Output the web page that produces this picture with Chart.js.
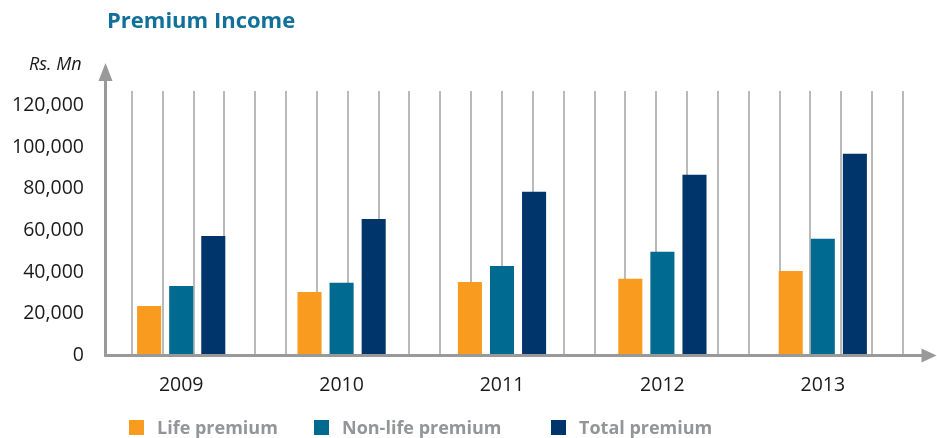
<!DOCTYPE html>
<html>
<head>
<meta charset="utf-8">
<title>Premium Income</title>
<script src="https://cdn.jsdelivr.net/npm/chart.js@4.4.1/dist/chart.umd.min.js"></script>
<style>
  html, body { margin: 0; padding: 0; background: #ffffff; }
  #wrap { position: relative; width: 937px; height: 438px; overflow: hidden; font-family: "Open Sans", sans-serif; }
  #chart { position: absolute; left: 0; top: 0; }
  #title { position: absolute; left: 107px; top: 4px; font-size: 22px; font-weight: 700; color: #10709a; white-space: nowrap; }
  #unit { position: absolute; left: 29px; top: 51px; font-size: 18px; font-style: italic; color: #1a1a1a; white-space: nowrap; }
  .legend-item { position: absolute; top: 415px; display: flex; align-items: center; white-space: nowrap; }
  .legend-item .box { width: 15px; height: 15px; margin-right: 13px; }
  .legend-item .label { font-size: 18px; font-weight: 700; color: #939598; }
  .legend-item:nth-child(1) { left: 129px; }
  .legend-item:nth-child(2) { left: 314px; }
  .legend-item:nth-child(3) { left: 551px; }
</style>
</head>
<body>
<div id="wrap">
  <canvas id="chart" width="937" height="438"></canvas>
  <div id="title">Premium Income</div>
  <div id="unit">Rs. Mn</div>
  <div id="legend"></div>
</div>
<script>
// Données (Rs. Mn)
const years = ["2009", "2010", "2011", "2012", "2013"];
const lifePremium = [23800, 30500, 35300, 36800, 40600];
const nonLifePremium = [33400, 34900, 43000, 49800, 56000];
const totalPremium = [57400, 65600, 78600, 86800, 96900];
const yTicks = [0, 20000, 40000, 60000, 80000, 100000, 120000];

const seriesNames = ["Life premium", "Non-life premium", "Total premium"];
const seriesColors = ["#f89b1f", "#006a91", "#00356b"];

const AXIS_COLOR = "#999999";
const GRID_COLOR = "#bababa";
const TEXT_COLOR = "#1a1a1a";
const FONT = "'Open Sans', sans-serif";

// each year takes 5 slots: empty, 3 bars, empty
const slotCount = years.length * 5;

// axes with arrows, drawn over the bars
const axisArrows = {
  id: "axisArrows",
  afterDatasetsDraw(chart) {
    const { ctx, chartArea } = chart;
    const y0 = chart.scales.y.getPixelForValue(0);
    const ax = chartArea.left + 4.5;
    const xEnd = chart.width - 0.5;
    ctx.save();
    ctx.strokeStyle = AXIS_COLOR;
    ctx.fillStyle = AXIS_COLOR;
    ctx.lineWidth = 3;
    ctx.beginPath();
    ctx.moveTo(ax, y0 + 1.5);
    ctx.lineTo(ax, chartArea.top - 11);
    ctx.moveTo(ax - 1.5, y0);
    ctx.lineTo(xEnd - 14, y0);
    ctx.stroke();
    ctx.beginPath();
    ctx.moveTo(ax, chartArea.top - 28);
    ctx.lineTo(ax - 7, chartArea.top - 10);
    ctx.lineTo(ax + 7, chartArea.top - 10);
    ctx.closePath();
    ctx.fill();
    ctx.beginPath();
    ctx.moveTo(xEnd, y0);
    ctx.lineTo(xEnd - 15, y0 - 7);
    ctx.lineTo(xEnd - 15, y0 + 7);
    ctx.closePath();
    ctx.fill();
    ctx.restore();
  },
};

const ctx = document.getElementById("chart").getContext("2d");
const premiumChart = new Chart(ctx, {
  type: "bar",
  data: {
    labels: years,
    datasets: [lifePremium, nonLifePremium, totalPremium].map((values, i) => ({
      label: seriesNames[i],
      data: values,
      backgroundColor: seriesColors[i],
      borderWidth: 0,
      categoryPercentage: 0.6,
      barPercentage: 0.75,
    })),
  },
  options: {
    responsive: false,
    animation: false,
    devicePixelRatio: 1,
    layout: {
      padding: { top: 91, right: 34, bottom: 0, left: 0 },
    },
    plugins: {
      legend: { display: false },
      tooltip: { enabled: false },
    },
    scales: {
      x: {
        type: "category",
        grid: { display: false, drawTicks: false },
        border: { display: false },
        ticks: {
          color: TEXT_COLOR,
          font: { family: FONT, size: 19.5 },
          padding: 18,
          maxRotation: 0,
        },
        afterFit(scale) {
          scale.height = 82.5;
        },
      },
      x2: {
        type: "linear",
        position: "top",
        min: 0,
        max: slotCount,
        ticks: { display: false, stepSize: 1 },
        grid: {
          drawTicks: false,
          lineWidth: 2,
          color: (c) => (c.index === 0 ? "rgba(0,0,0,0)" : GRID_COLOR),
        },
        border: { display: false },
        afterFit(scale) {
          scale.height = 0;
        },
      },
      y: {
        min: 0,
        max: 127000,
        grid: { display: false, drawTicks: false },
        border: { display: false },
        afterBuildTicks(scale) {
          scale.ticks = yTicks.map((v) => ({ value: v }));
        },
        ticks: {
          color: TEXT_COLOR,
          font: { family: FONT, size: 19.5 },
          padding: 17,
          callback: (v) => v.toLocaleString("en-US"),
        },
        afterFit(scale) {
          scale.width = 101;
        },
      },
    },
  },
  plugins: [axisArrows],
});

// Légende HTML
const legend = document.getElementById("legend");
seriesNames.forEach((name, i) => {
  const item = document.createElement("div");
  item.className = "legend-item";
  const box = document.createElement("span");
  box.className = "box";
  box.style.background = seriesColors[i];
  const label = document.createElement("span");
  label.className = "label";
  label.textContent = name;
  item.appendChild(box);
  item.appendChild(label);
  legend.appendChild(item);
});
</script>
</body>
</html>
